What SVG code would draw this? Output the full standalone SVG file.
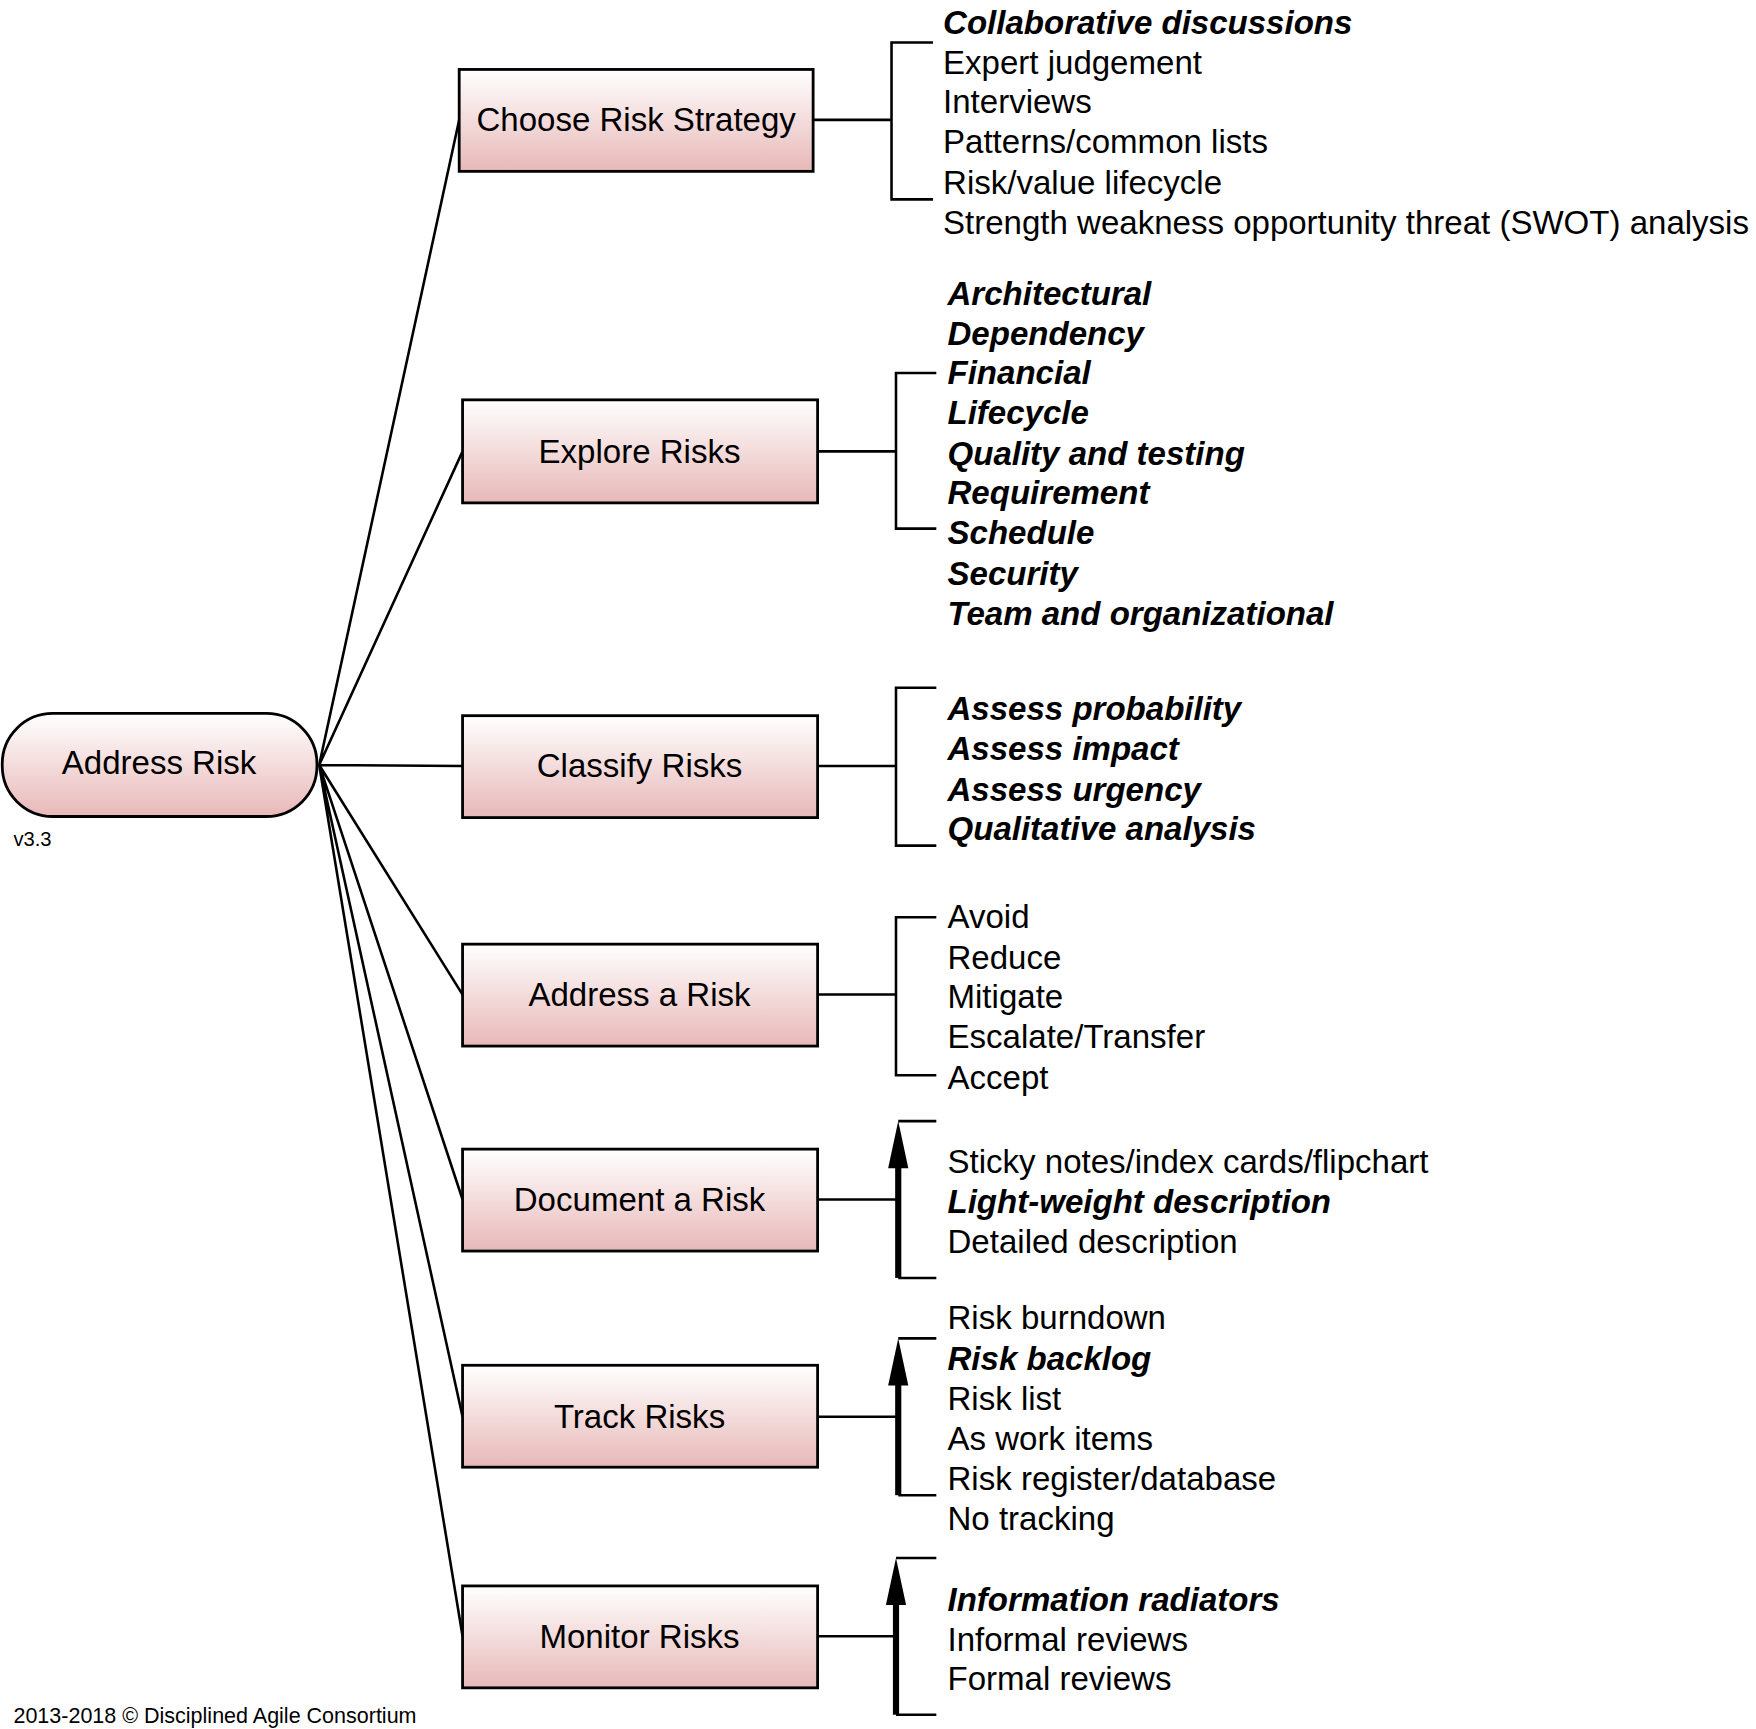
<svg xmlns="http://www.w3.org/2000/svg" width="1756" height="1729" viewBox="0 0 1756 1729">
<defs>
<linearGradient id="g" x1="0" y1="0" x2="0" y2="1"><stop offset="0" stop-color="#ffffff"/><stop offset="1" stop-color="#e8b8b8"/></linearGradient>
</defs>
<style>
.n{fill:url(#g);stroke:#000;stroke-width:2.5}
.t{font-family:"Liberation Sans",Arial,sans-serif;font-size:29.5px;fill:#000}
.c{text-anchor:middle}
.b{font-weight:bold;font-style:italic}
.l{stroke:#000;stroke-width:2.3;fill:none}
.k{stroke:#000;stroke-width:5.5;fill:none}
</style>
<rect width="1756" height="1729" fill="#fff"/>
<g transform="scale(1.12)">
<g id="connectors">
<path class="l" d="M285,683 L410,107 M285,683 L413,403 M285,683 L413,684 M285,683 L413,888 M285,683 L413,1071 M285,683 L413,1265 M285,683 L413,1461"/>
<path class="l" d="M726,107 H796 M833,38 H796 V178 H833"/>
<path class="l" d="M730,403 H800 M836,333 H800 V472 H836"/>
<path class="l" d="M730,684 H800 M836,614 H800 V755 H836"/>
<path class="l" d="M730,888 H800 M836,819 H800 V960 H836"/>
<path class="l" d="M730,1071 H802 M836,1001 H802 M836,1141 H802"/>
<path class="l" d="M730,1265 H802 M836,1195 H802 M836,1335 H802"/>
<path class="l" d="M730,1461 H800 M836,1391 H800 M836,1531 H800"/>
<path d="M802,1141 V1040" class="k"/><path d="M793,1043 L802,1001 L811,1043 Z"/>
<path d="M802,1335 V1234" class="k"/><path d="M793,1237 L802,1195 L811,1237 Z"/>
<path d="M800,1531 V1430" class="k"/><path d="M791,1433 L800,1391 L809,1433 Z"/>
</g>
<g id="address-risk"><rect class="n" x="2" y="637" width="281" height="92" rx="45"/><text class="t c" x="142" y="691">Address Risk</text></g>
<g id="choose"><rect class="n" x="410" y="62" width="316" height="91"/><text class="t c" x="568" y="117">Choose Risk Strategy</text></g>
<g id="explore"><rect class="n" x="413" y="357" width="317" height="92"/><text class="t c" x="571" y="413">Explore Risks</text></g>
<g id="classify"><rect class="n" x="413" y="639" width="317" height="91"/><text class="t c" x="571" y="694">Classify Risks</text></g>
<g id="address-a-risk"><rect class="n" x="413" y="843" width="317" height="91"/><text class="t c" x="571" y="898">Address a Risk</text></g>
<g id="document"><rect class="n" x="413" y="1026" width="317" height="91"/><text class="t c" x="571" y="1081">Document a Risk</text></g>
<g id="track"><rect class="n" x="413" y="1219" width="317" height="91"/><text class="t c" x="571" y="1275">Track Risks</text></g>
<g id="monitor"><rect class="n" x="413" y="1416" width="317" height="91"/><text class="t c" x="571" y="1471">Monitor Risks</text></g>
<g id="labels" class="t">
<text x="842" y="30" class="b">Collaborative discussions</text>
<text x="842" y="66">Expert judgement</text>
<text x="842" y="101">Interviews</text>
<text x="842" y="137">Patterns/common lists</text>
<text x="842" y="173">Risk/value lifecycle</text>
<text x="842" y="209">Strength weakness opportunity threat (SWOT) analysis</text>
<text x="846" y="272" class="b">Architectural</text>
<text x="846" y="308" class="b">Dependency</text>
<text x="846" y="343" class="b">Financial</text>
<text x="846" y="379" class="b">Lifecycle</text>
<text x="846" y="415" class="b">Quality and testing</text>
<text x="846" y="450" class="b">Requirement</text>
<text x="846" y="486" class="b">Schedule</text>
<text x="846" y="522" class="b">Security</text>
<text x="846" y="558" class="b">Team and organizational</text>
<text x="846" y="643" class="b">Assess probability</text>
<text x="846" y="679" class="b">Assess impact</text>
<text x="846" y="715" class="b">Assess urgency</text>
<text x="846" y="750" class="b">Qualitative analysis</text>
<text x="846" y="829">Avoid</text>
<text x="846" y="865">Reduce</text>
<text x="846" y="900">Mitigate</text>
<text x="846" y="936">Escalate/Transfer</text>
<text x="846" y="972">Accept</text>
<text x="846" y="1047">Sticky notes/index cards/flipchart</text>
<text x="846" y="1083" class="b">Light-weight description</text>
<text x="846" y="1119">Detailed description</text>
<text x="846" y="1187">Risk burndown</text>
<text x="846" y="1223" class="b">Risk backlog</text>
<text x="846" y="1259">Risk list</text>
<text x="846" y="1295">As work items</text>
<text x="846" y="1330">Risk register/database</text>
<text x="846" y="1366">No tracking</text>
<text x="846" y="1438" class="b">Information radiators</text>
<text x="846" y="1474">Informal reviews</text>
<text x="846" y="1509">Formal reviews</text>
</g>
<text x="12" y="755" font-family="Liberation Sans, Arial, sans-serif" font-size="18">v3.3</text>
<text x="12" y="1538" font-family="Liberation Sans, Arial, sans-serif" font-size="19.2">2013-2018 © Disciplined Agile Consortium</text>
</g>
</svg>
